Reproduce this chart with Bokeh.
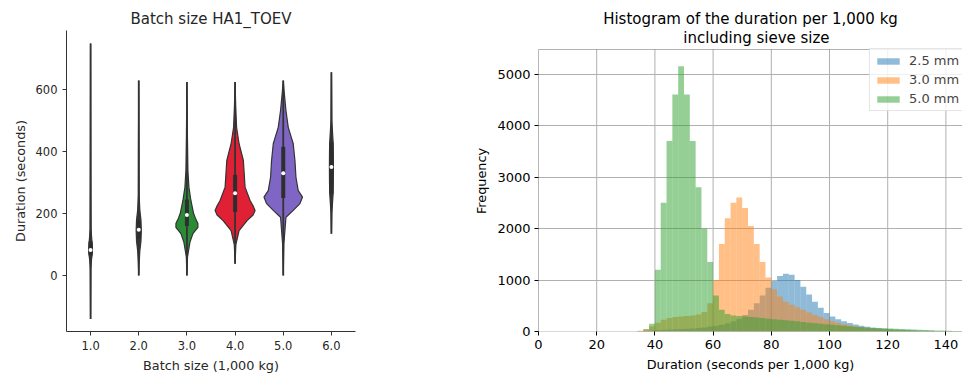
from bokeh.plotting import figure
from bokeh.layouts import row
from bokeh.models import Range1d, FixedTicker, Legend, LegendItem, Label, BoxAnnotation, NumeralTickFormatter
from bokeh.embed import file_html
from bokeh.resources import INLINE

# ---------------- Left: violin plot data ----------------
batch_sizes = [1.0, 2.0, 3.0, 4.0, 5.0, 6.0]
violin_colors = ["#3c3c3c", "#3c3c3c", "#2a8a35", "#df2035", "#8066c4", "#3c3c3c"]

# density profiles (duration value, relative density) per batch size
v1_y = [-140, 20, 50, 70, 85, 100, 120, 150, 300, 748]
v1_d = [0, 0.3, 0.9, 1.7, 1.9, 1.7, 1.1, 0.5, 0.3, 0]
v2_y = [0, 40, 80, 110, 145, 180, 210, 260, 400, 629]
v2_d = [0, 0.4, 1.1, 2.2, 2.6, 2.2, 1.1, 0.4, 0.3, 0]
v3_y = [0, 60, 107, 135, 155, 168, 185, 200, 242, 285, 339, 450, 624]
v3_d = [0, 0.6, 3.0, 6.0, 11.0, 11.0, 8.5, 6.7, 4.0, 2.0, 1.0, 0.5, 0]
v4_y = [38, 100, 145, 177, 195, 210, 225, 242, 285, 371, 425, 478, 550, 624]
v4_d = [0, 0.8, 4.0, 12.0, 18.0, 20.0, 18.0, 15.0, 10.0, 8.3, 4.0, 1.5, 0.6, 0]
v5_y = [0, 100, 188, 210, 232, 253, 274, 317, 371, 425, 478, 532, 590, 629]
v5_d = [0, 0.6, 2.7, 10.0, 16.7, 19.3, 15.0, 12.7, 11.7, 10.0, 5.0, 2.7, 1.0, 0]
v6_y = [135, 200, 264, 300, 349, 400, 430, 500, 656]
v6_d = [0, 0.4, 1.7, 1.9, 2.0, 1.9, 1.7, 0.4, 0]
violin_y = [v1_y, v2_y, v3_y, v4_y, v5_y, v6_y]
violin_d = [v1_d, v2_d, v3_d, v4_d, v5_d, v6_d]

box_q1 = [65, 118, 160, 205, 250, 264]
box_median = [82, 148, 195, 265, 330, 350]
box_q3 = [110, 178, 245, 325, 415, 430]
box_low = [-140, 0, 0, 38, 0, 135]
box_high = [748, 629, 624, 624, 629, 656]

# ---------------- Right: histogram data ----------------
bin_left = [30, 32, 34, 36, 38, 40, 42, 44, 46, 48, 50, 52, 54, 56, 58, 60, 62, 64, 66, 68,
            70, 72, 74, 76, 78, 80, 82, 84, 86, 88, 90, 92, 94, 96, 98, 100, 102, 104, 106, 108,
            110, 112, 114, 116, 118, 120, 122, 124, 126, 128, 130, 132, 134, 136, 138, 140, 142, 144]
bin_width = 2
counts_25 = [0, 0, 5, 10, 20, 30, 35, 40, 45, 50, 55, 60, 70, 80, 95, 110, 130, 160, 200, 250,
             320, 420, 550, 700, 850, 980, 1080, 1120, 1100, 1000, 870, 720, 580, 460, 360, 290, 240, 200, 165, 135,
             110, 90, 75, 62, 52, 44, 38, 32, 27, 23, 20, 17, 14, 12, 10, 8, 7, 6]
counts_30 = [0, 0, 15, 50, 100, 170, 230, 260, 280, 290, 300, 310, 330, 380, 550, 1000, 1700, 2200, 2500, 2600,
             2400, 2050, 1700, 1350, 1050, 820, 680, 580, 520, 470, 420, 370, 320, 280, 240, 200, 170, 140, 115, 95,
             80, 65, 55, 45, 38, 32, 27, 22, 18, 15, 12, 10, 8, 6, 5, 4, 3, 2]
counts_50 = [0, 0, 10, 40, 150, 1200, 2500, 3700, 4600, 5150, 4600, 3700, 2800, 2000, 1350, 700, 420, 340, 310, 300,
             290, 280, 270, 260, 250, 240, 230, 220, 210, 200, 185, 170, 160, 150, 140, 130, 120, 110, 100, 90,
             85, 80, 75, 70, 65, 60, 55, 50, 45, 40, 35, 30, 25, 20, 18, 15, 12, 10]
series_labels = ["2.5 mm", "3.0 mm", "5.0 mm"]
series_counts = [counts_25, counts_30, counts_50]
series_colors = ["#1f77b4", "#ff7f0e", "#2ca02c"]
hist_xticks = [0, 20, 40, 60, 80, 100, 120, 140]
hist_yticks = [0, 1000, 2000, 3000, 4000, 5000]

FONT = "DejaVu Sans"

# ================= Left figure =================
px_per_unit = 48.2
p1 = figure(output_backend="svg", toolbar_location=None,
            frame_width=289, frame_height=301,
            x_range=Range1d(0.5, 6.5), y_range=Range1d(-180.6, 790.3),
            min_border_left=66, min_border_right=65, min_border_top=30, min_border_bottom=45)
p1.title.text = "Batch size HA1_TOEV"
p1.title.align = "center"
p1.title.text_font = FONT
p1.title.text_font_size = "15px"
p1.title.text_font_style = "normal"
p1.title.text_color = "#262626"
p1.title.standoff = 5
p1.outline_line_color = None
p1.grid.visible = False

xs_list, ys_list = [], []
for c, yv, dv in zip(batch_sizes, violin_y, violin_d):
    right = [c + d / px_per_unit for d in dv]
    left = [c - d / px_per_unit for d in dv]
    xs_list.append(right + left[::-1])
    ys_list.append(yv + yv[::-1])
p1.patches(xs_list, ys_list, fill_color=violin_colors, line_color="#333333", line_width=1.2)
p1.segment(x0=batch_sizes, y0=box_low, x1=batch_sizes, y1=box_high, line_color="#333333", line_width=1.8)
p1.segment(x0=batch_sizes, y0=box_q1, x1=batch_sizes, y1=box_q3, line_color="#2e2e2e", line_width=4)
p1.scatter(x=batch_sizes, y=box_median, size=4, fill_color="white", line_color=None)

p1.xaxis.ticker = FixedTicker(ticks=batch_sizes)
p1.xaxis.formatter = NumeralTickFormatter(format="0.0")
p1.yaxis.ticker = FixedTicker(ticks=[0, 200, 400, 600])
p1.xaxis.axis_label = "Batch size (1,000 kg)"
p1.yaxis.axis_label = "Duration (seconds)"
for ax in (p1.xaxis[0], p1.yaxis[0]):
    ax.axis_line_color = "#333333"
    ax.major_tick_line_color = "#333333"
    ax.major_tick_out = 4
    ax.major_tick_in = 0
    ax.minor_tick_line_color = None
    ax.major_label_text_font = FONT
    ax.major_label_text_font_size = "11.5px"
    ax.major_label_text_color = "#262626"
    ax.axis_label_text_font = FONT
    ax.axis_label_text_font_size = "12.8px"
    ax.axis_label_text_font_style = "normal"
    ax.axis_label_text_color = "#262626"
    ax.major_label_standoff = 5
    ax.axis_label_standoff = 5

# ================= Right figure =================
y_top = 5476      # top of the axes box
p2 = figure(output_backend="svg", toolbar_location=None,
            frame_width=424, frame_height=301,
            x_range=Range1d(0, 145.7), y_range=Range1d(0, 5845),
            min_border_left=118, min_border_right=0, min_border_top=30, min_border_bottom=45)
p2.title.text = "Histogram of the duration per 1,000 kg"
p2.title.align = "center"
p2.title.text_font = FONT
p2.title.text_font_size = "15px"
p2.title.text_font_style = "normal"
p2.title.text_color = "black"
p2.title.standoff = 5
p2.title.offset = 6
p2.add_layout(Label(x=74.9, y=5709, text="including sieve size", text_align="center",
                    text_baseline="middle", text_font=FONT, text_font_size="15px", text_color="black"))
p2.outline_line_color = None

# grid (vertical lines limited to the axes box)
p2.xgrid.visible = False
p2.segment(x0=hist_xticks, y0=0, x1=hist_xticks, y1=y_top, line_color="#b0b0b0", line_width=1, level="underlay")
p2.ygrid.grid_line_color = "#b0b0b0"
p2.ygrid.grid_line_width = 1

renderers = []
for cnt, col in zip(series_counts, series_colors):
    r = p2.quad(left=bin_left, right=[b + bin_width for b in bin_left], bottom=0, top=cnt,
                fill_color=col, fill_alpha=0.5, line_color=None)
    renderers.append(r)

p2.add_layout(BoxAnnotation(left=0, right=150, bottom=0, top=y_top, fill_alpha=0,
                            line_color="black", line_width=1, level="overlay"))

p2.xaxis.ticker = FixedTicker(ticks=hist_xticks)
p2.yaxis.ticker = FixedTicker(ticks=hist_yticks)
p2.xaxis.axis_label = "Duration (seconds per 1,000 kg)"
p2.yaxis.axis_label = "Frequency"
for ax in (p2.xaxis[0], p2.yaxis[0]):
    ax.axis_line_color = None
    ax.major_tick_line_color = "black"
    ax.major_tick_out = 4
    ax.major_tick_in = 0
    ax.minor_tick_line_color = None
    ax.major_label_text_font = FONT
    ax.major_label_text_font_size = "13px"
    ax.major_label_text_color = "black"
    ax.axis_label_text_font = FONT
    ax.axis_label_text_font_size = "12.8px"
    ax.axis_label_text_font_style = "normal"
    ax.axis_label_text_color = "black"
    ax.major_label_standoff = 4
    ax.axis_label_standoff = 5

legend = Legend(items=[LegendItem(label=l, renderers=[r]) for l, r in zip(series_labels, renderers)],
                location=(331, 220))
legend.label_text_font = FONT
legend.label_text_font_size = "13px"
legend.glyph_width = 28
legend.glyph_height = 8
legend.label_height = 14
legend.label_standoff = 7
legend.spacing = 4
legend.padding = 4
legend.margin = 0
legend.border_line_color = "#cccccc"
legend.background_fill_alpha = 0.8
p2.add_layout(legend)

layout = row(p1, p2, spacing=0)
with open("out.html", "w") as f:
    f.write(file_html(layout, INLINE))
